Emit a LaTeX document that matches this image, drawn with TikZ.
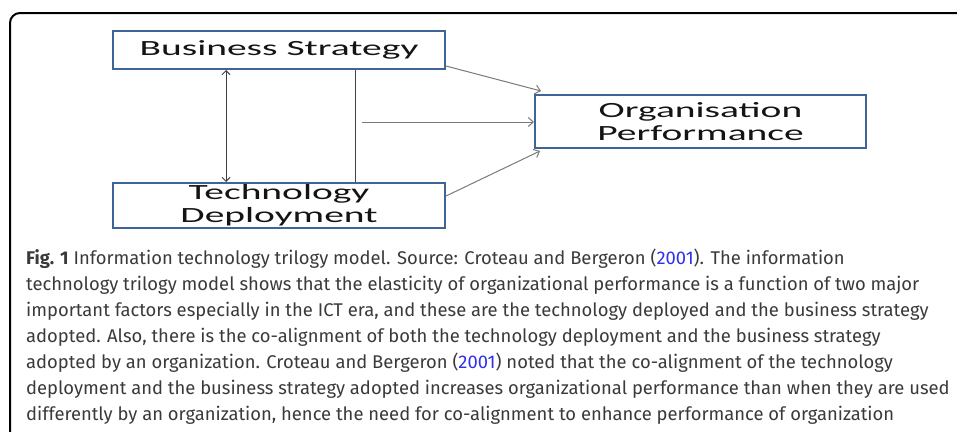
\documentclass[tikz,border=0pt]{standalone}
\usepackage{fontspec}
\setmainfont{Fira Sans}
\newfontfamily\boxfont[FakeStretch=1.82]{Carlito}
\usetikzlibrary{calc, positioning, arrows.meta}
\definecolor{color_box}{HTML}{3F6596}
\definecolor{color_text}{HTML}{141414}
\definecolor{color_line}{HTML}{7A7A7A}
\definecolor{color_dark}{HTML}{404040}
\definecolor{color_caption}{HTML}{3A3A3A}
\definecolor{color_link}{HTML}{2F2FF0}
\tikzset{
  page_frame/.style={draw=black, line width=2pt, rounded corners=10pt},
  model_box/.style={draw=color_box, line width=2pt, fill=white, inner sep=0pt, align=center,
    font=\boxfont\fontsize{21.7}{23}\selectfont, text=color_text},
  model_arrow/.style={-{Straight Barb[length=5pt, width=9pt]}, draw=color_line, line width=1pt},
  model_link/.style={draw=color_dark, line width=1pt},
  caption_text/.style={font=\fontsize{18.4}{26}\selectfont, text=color_caption, align=left, inner sep=0pt},
}
\newcommand{\citeyear}{\textcolor{color_link}{2001}}
\begin{document}
\begin{tikzpicture}[x=1pt, y=-1pt]
    \useasboundingbox (0,0) rectangle (957,431);
    \clip (0,0) rectangle (957,431);
    \draw[page_frame] (10,460) -- (10,13) -- (990,13);
    % the three boxes of the model
    \node[model_box, minimum width=332pt, minimum height=38pt] (bs) at (279,50) {\raisebox{-2pt}{Business Strategy}};
    \node[model_box, minimum width=332pt, minimum height=45pt] (td) at (279,205.5) {Technology\\Deployment};
    \node[model_box, minimum width=331pt, minimum height=53pt] (op) at (700.5,121.5) {Organisation\\Performance};
    \coordinate (link_x) at (226,0);
    \coordinate (align_x) at (355,0);
    \coordinate (align_start) at (362,122);
    \draw[model_link, {Straight Barb[length=4pt, width=8pt]}-{Straight Barb[length=4pt, width=8pt]}]
      (bs.south -| link_x) -- (td.north -| link_x);
    \draw[model_link] (bs.south -| align_x) -- (td.north -| align_x);
    \draw[model_arrow] ($(bs.south east)+(0,-4)$) -- ($(op.north west)+(7,-3)$);
    \draw[model_arrow] (align_start) -- (align_start -| op.west);
    \draw[model_arrow] ($(td.north east)+(0,14)$) -- ($(op.south west)+(6,2)$);
    % caption
    \node[caption_text, anchor=north west] (caption) at (26,249) {%
      \textbf{Fig. 1} Information technology trilogy model. Source: Croteau and Bergeron (\citeyear). The information\\
      technology trilogy model shows that the elasticity of organizational performance is a function of two major\\
      important factors especially in the ICT era, and these are the technology deployed and the business strategy\\
      adopted. Also, there is the co-alignment of both the technology deployment and the business strategy\\
      adopted by an organization. Croteau and Bergeron (\citeyear) noted that the co-alignment of the technology\\
      deployment and the business strategy adopted increases organizational performance than when they are used\\
      differently by an organization, hence the need for co-alignment to enhance performance of organization};
\end{tikzpicture}
\end{document}
